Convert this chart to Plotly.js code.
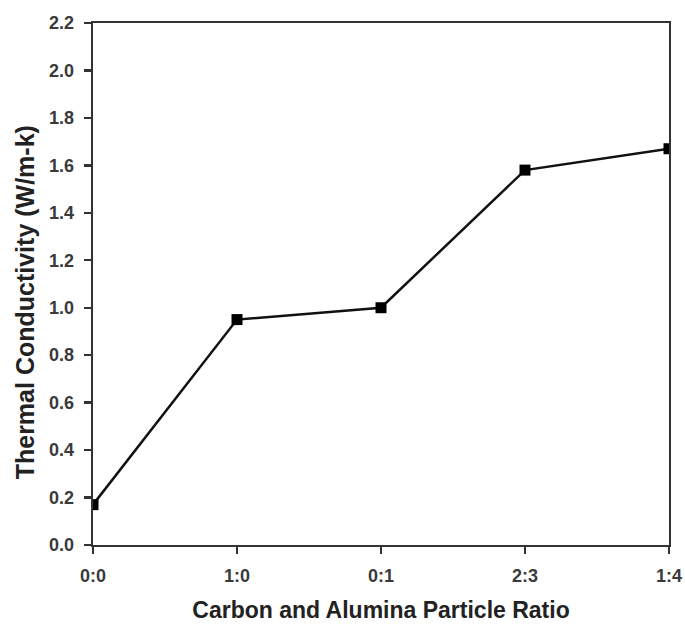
<!DOCTYPE html>
<html>
<head>
<meta charset="utf-8">
<script src="https://cdn.plot.ly/plotly-3.0.1.min.js"></script>
<style>
  html, body { margin: 0; padding: 0; background: #fff; }
  #chart { width: 685px; height: 627px; }
</style>
</head>
<body>
<div id="chart"></div>
<script>
// Carbon : alumina particle ratios tested
const ratios = ['0:0', '1:0', '0:1', '2:3', '1:4'];
// Measured thermal conductivity (W/m-k)
const conductivity = [0.17, 0.95, 1.00, 1.58, 1.67];
const yTicks = [0.0, 0.2, 0.4, 0.6, 0.8, 1.0, 1.2, 1.4, 1.6, 1.8, 2.0, 2.2];

const trace = {
  x: ratios,
  y: conductivity,
  type: 'scatter',
  mode: 'lines+markers',
  line: { color: '#111', width: 2.5 },
  marker: { symbol: 'square', size: 11, color: '#000' },
  cliponaxis: true,
  showlegend: false
};

const family = 'Liberation Sans, Arial, sans-serif';
const tickFont = { family: family, size: 18, color: '#3a3a3a', weight: 'bold' };

const axisCommon = {
  showgrid: false,
  zeroline: false,
  showline: true,
  linecolor: '#333',
  linewidth: 2.4,
  mirror: true,
  ticks: 'outside',
  ticklen: 7,
  tickwidth: 2.4,
  tickcolor: '#333',
  tickfont: tickFont
};

const layout = {
  width: 685,
  height: 627,
  margin: { l: 93, r: 16, t: 23, b: 82 },
  paper_bgcolor: '#fff',
  plot_bgcolor: '#fff',
  xaxis: Object.assign({}, axisCommon, {
    type: 'category',
    range: [0, 4],
    ticklabelstandoff: 6,
    title: {
      text: 'Carbon and Alumina Particle Ratio',
      font: { family: family, size: 23, color: '#222', weight: 'bold' },
      standoff: 17
    }
  }),
  yaxis: Object.assign({}, axisCommon, {
    range: [0, 2.2],
    tickvals: yTicks,
    ticktext: yTicks.map(v => v.toFixed(1)),
    ticklabelstandoff: 6
  }),
  annotations: [{
    text: 'Thermal Conductivity (W/m-k)',
    textangle: -90,
    xref: 'paper', yref: 'paper',
    x: -0.118, y: 0.465,
    xanchor: 'center', yanchor: 'middle',
    showarrow: false,
    font: { family: family, size: 25, color: '#222', weight: 'bold' }
  }]
};

Plotly.newPlot('chart', [trace], layout, { displayModeBar: false, staticPlot: true });
</script>
</body>
</html>
